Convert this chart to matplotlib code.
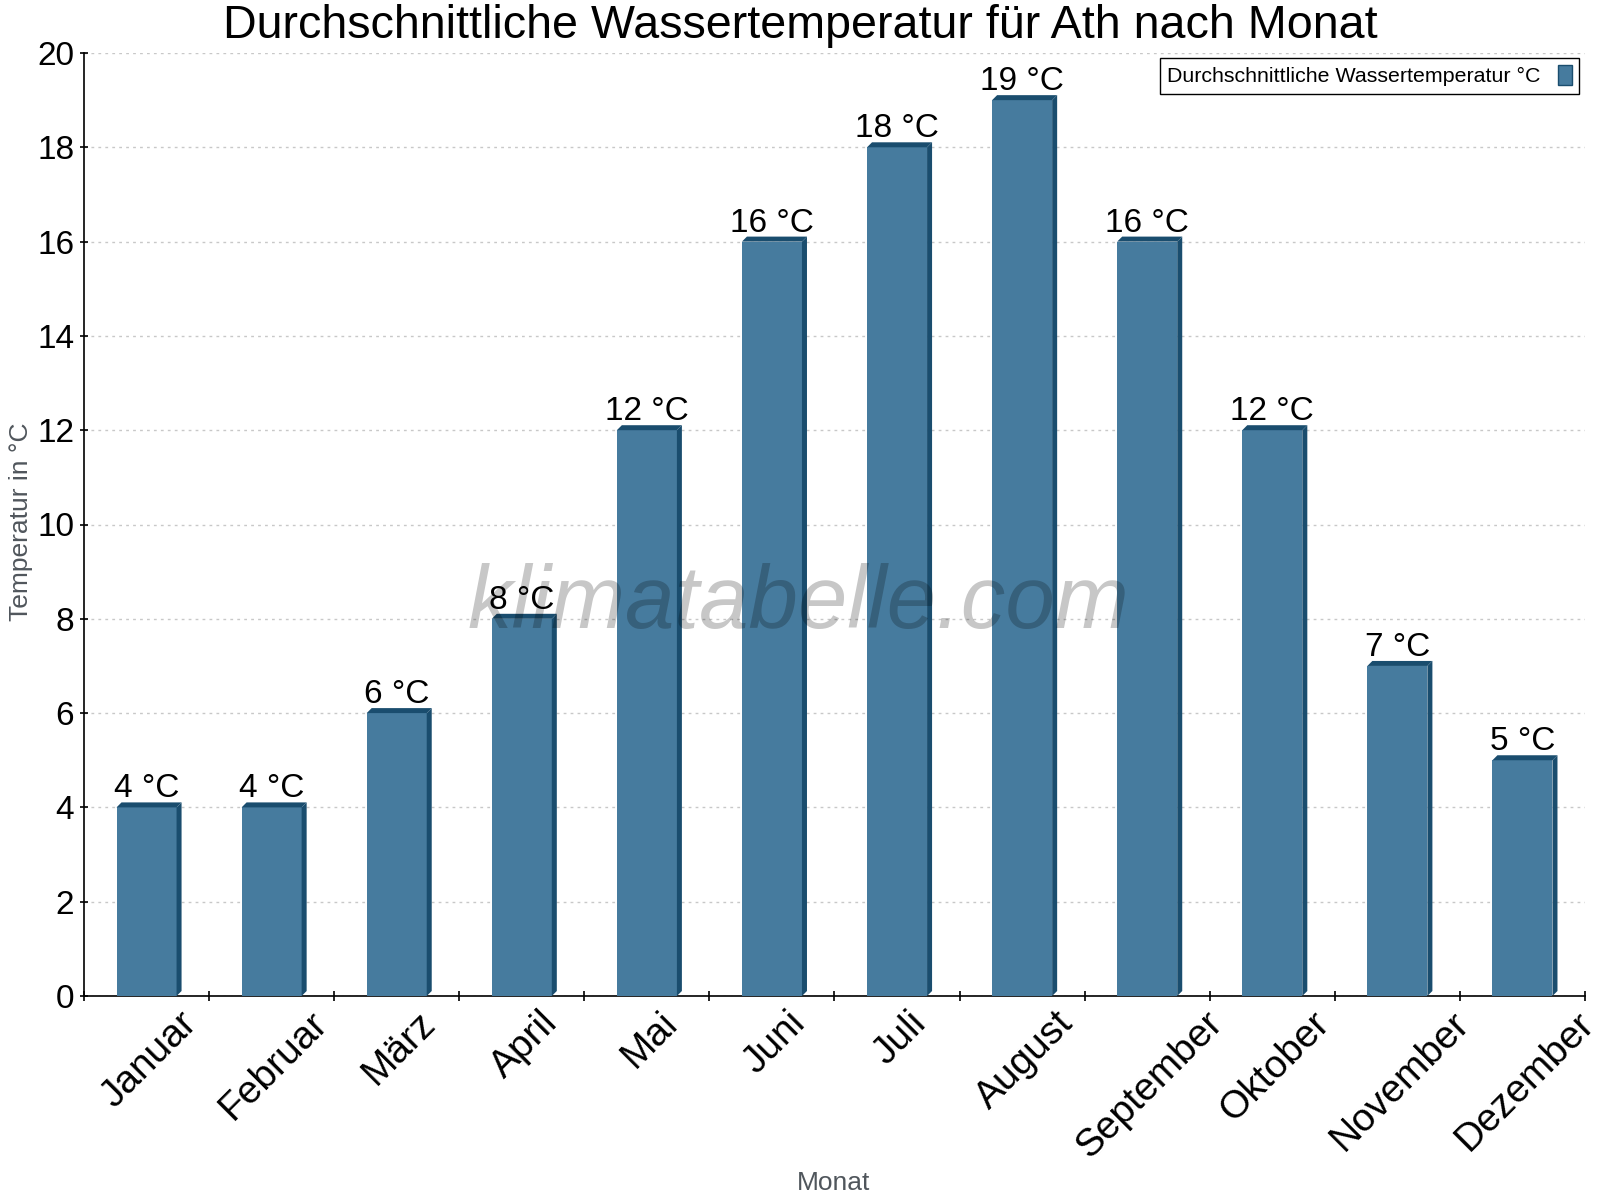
import matplotlib
matplotlib.use('Agg')
import matplotlib.pyplot as plt
from matplotlib.patches import Polygon, Patch

"""Daten"""
monate = ['Januar', 'Februar', 'März', 'April', 'Mai', 'Juni', 'Juli',
          'August', 'September', 'Oktober', 'November', 'Dezember']
wassertemp = [4, 4, 6, 8, 12, 16, 18, 19, 16, 12, 7, 5]
y_ticks = [0, 2, 4, 6, 8, 10, 12, 14, 16, 18, 20]

titel = 'Durchschnittliche Wassertemperatur für Ath nach Monat'
legende = 'Durchschnittliche Wassertemperatur °C'

front_color = '#467b9e'
dark_color = '#1a4d6e'
label_gray = '#50565c'

plt.rcParams['font.family'] = ['Liberation Sans', 'DejaVu Sans']

fig = plt.figure(figsize=(16, 12), dpi=100)
ax = fig.add_axes([84 / 1600, 1 - 996 / 1200, 1501 / 1600, 943 / 1200])

bar_w = 0.48
dx = 0.04   # Tiefe in x (Kategorien)
dy = 0.106  # Tiefe in y (°C)

for i, v in enumerate(wassertemp):
    ax.bar(i, v, width=bar_w, color=front_color, zorder=3, linewidth=0)
    r = i + bar_w / 2
    l = i - bar_w / 2
    side = Polygon([(r, 0), (r + dx, dy), (r + dx, v + dy), (r, v)],
                   closed=True, facecolor=dark_color, edgecolor='none', zorder=3)
    top = Polygon([(l, v), (l + dx, v + dy), (r + dx, v + dy), (r, v)],
                  closed=True, facecolor=dark_color, edgecolor='none', zorder=3)
    ax.add_patch(side)
    ax.add_patch(top)
    ax.annotate('%d °C' % v, xy=(i, v + dy), xytext=(0, 3.6), textcoords='offset points',
                ha='center', va='baseline', fontsize=24, color='black', zorder=5)

ax.set_xlim(-0.5, len(monate) - 0.5)
ax.set_ylim(0, 20)
ax.set_yticks(y_ticks)
ax.set_yticklabels([str(t) for t in y_ticks], fontsize=24)

# Monatsnamen in der Mitte, Striche an den Grenzen
ax.set_xticks([k + 0.02 for k in range(len(monate))])
ax.set_xticklabels(monate, fontsize=28, rotation=45, ha='center', va='top')
ax.set_xticks([k - 0.5 for k in range(len(monate) + 1)], minor=True)
ax.tick_params(axis='x', which='major', length=0, pad=6.5)
ax.tick_params(axis='x', which='minor', length=7, width=1.2, direction='inout')
ax.tick_params(axis='y', length=6, width=1.2, direction='inout', pad=4)

ax.grid(axis='y', linestyle=(0, (2, 3)), color='#c8c8c8', linewidth=1, zorder=0)
ax.set_axisbelow(True)
for side_name in ['top', 'right']:
    ax.spines[side_name].set_visible(False)
for side_name in ['left', 'bottom']:
    ax.spines[side_name].set_linewidth(1.2)

# Wasserzeichen
ax.text(0.476, 0.415, 'klimatabelle.com', transform=ax.transAxes, fontsize=64,
        style='italic', color='black', alpha=0.22, ha='center', va='center', zorder=6)

fig.text(0.5, 1 - 38 / 1200, titel, ha='center', va='baseline', fontsize=33.6)
fig.text(21 / 1600, 1 - 522 / 1200, 'Temperatur in °C', rotation=90,
         ha='center', va='center', fontsize=19, color=label_gray)
fig.text(834 / 1600, 1 - 1183 / 1200, 'Monat', ha='center', va='center',
         fontsize=19, color=label_gray)

handle = Patch(facecolor=front_color, edgecolor=dark_color, linewidth=1)
leg = ax.legend([handle], [legende], loc='upper right',
                bbox_to_anchor=(1 - 6 / 1501, 1 - 5 / 943), borderaxespad=0,
                markerfirst=False, fontsize=15.4, fancybox=False, framealpha=1,
                handlelength=0.65, handleheight=1.0, borderpad=0.35, handletextpad=0.8)
leg.get_frame().set_edgecolor('black')
leg.get_frame().set_linewidth(1)
leg.set_zorder(7)

fig.savefig('out.png', dpi=100)
